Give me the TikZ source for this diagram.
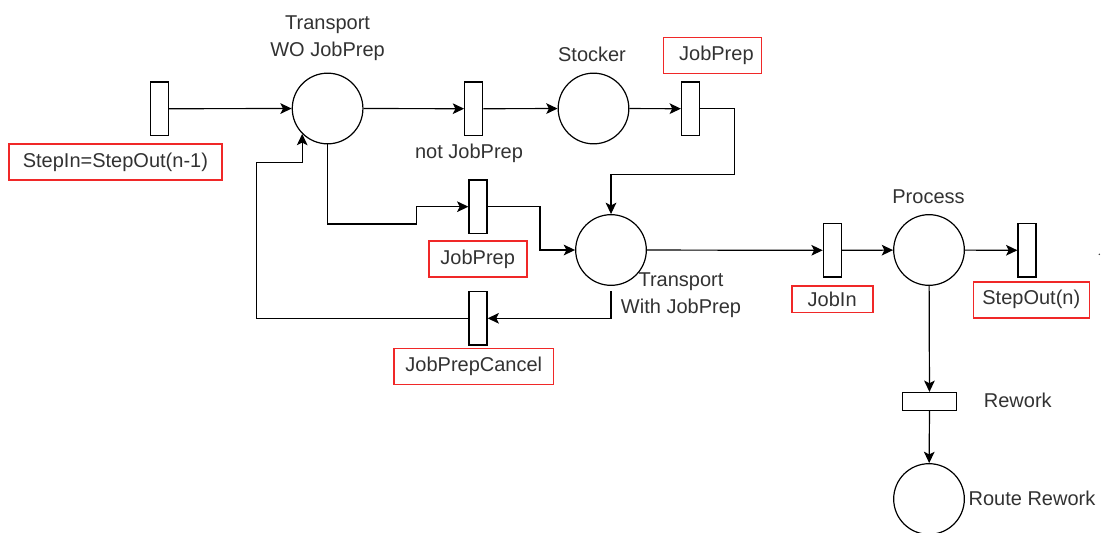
\documentclass[tikz,border=0pt]{standalone}
\usepackage{fontspec}
\setmainfont{Liberation Sans}
\usepackage{tikz}
\usetikzlibrary{calc, arrows.meta}
\definecolor{boxred}{RGB}{240, 40, 40}
\definecolor{txt}{RGB}{50, 50, 50}

\begin{document}
\begin{tikzpicture}[x=0.75pt, y=-0.75pt, line width=0.9pt,
    font=\fontsize{15}{20}\selectfont,
    place/.style={circle, draw, minimum size=53pt, inner sep=0pt},
    trans/.style={rectangle, draw, minimum width=13.5pt, minimum height=40pt, inner sep=0pt},
    redbox/.style={draw=boxred, line width=1.2pt, text=txt, minimum height=27pt, inner sep=2pt},
    lbl/.style={text=txt, align=center, inner sep=0pt},
    arr/.style={-{Stealth[length=8.5pt, width=8pt, inset=2pt]}}]
        \useasboundingbox (0,0) rectangle (1102,532);
        % places
        \node[place] (pwo) at (327.6,108.5) {};
        \node[place] (pst) at (593.5,108.5) {};
        \node[place] (pwith) at (611,250) {};
        \node[place] (pproc) at (929,250) {};
        \node[place] (prr) at (929,499) {};
        % transitions
        \node[trans] (tin) at (159.4,108.7) {};
        \node[trans] (tnot) at (473.7,108.7) {};
        \node[trans] (tjp) at (690.5,108.7) {};
        \node[trans] (tjp2) at (478,206.7) {};
        \node[trans] (tjin) at (832.3,250.3) {};
        \node[trans] (tout) at (1027,250.3) {};
        \node[trans] (tcancel) at (478,318.3) {};
        \node[rectangle, draw, minimum width=40.5pt, minimum height=13.5pt, inner sep=0pt] (trw) at (929.5,401.5) {};
        % texts
        \node[lbl] (lwo) at (327.6,38.5) {Transport\\WO JobPrep};
        \node[lbl] (lst) at (592,54) {Stocker};
        \node[lbl] (lnot) at (469,153.3) {not JobPrep};
        \node[lbl] (lproc) at (928.5,196.7) {Process};
        \node[lbl] (lwith) at (681,295) {Transport\\With JobPrep};
        \node[lbl] (lrw) at (1017.8,400) {Rework};
        \node[lbl, anchor=west] (lrr) at (968,498.3) {Route Rework};
        % red boxes
        \node[redbox, minimum width=159.75pt] (bin) at (115.4,162) {StepIn=StepOut(n-1)};
        \node[redbox, minimum width=73.5pt] (bjp) at (712.4,55.3) {\hspace{6pt}JobPrep};
        \node[redbox, minimum width=73.5pt] (bjp2) at (477.7,259) {JobPrep};
        \node[redbox, minimum width=60.75pt, minimum height=20pt] (bjin) at (832.2,299.3) {JobIn};
        \node[redbox, minimum width=87pt] (bout) at (1031.3,299.7) {StepOut(n)};
        \node[redbox, minimum width=119.7pt] (bcancel) at (473.8,366.3) {JobPrepCancel};
        \fill[txt] (1099.3,254.3) circle (0.6pt);
        % arcs
        \coordinate (b1) at (734.8,174.3);
        \coordinate (b2) at (416.3,224);
        \coordinate (b3) at (540,230);
        \coordinate (b4) at (256.5,162.3);
        \draw[arr] (tin) -- (pwo);
        \draw[arr] (pwo) -- (tnot);
        \draw[arr] (tnot) -- (pst);
        \draw[arr] (pst) -- (tjp);
        \draw[arr] (tjp.east) -| (b1) -| (pwith.north);
        \draw[arr] (pwo.south) |- (b2) |- (tjp2.west);
        \draw[arr] (tjp2.east) -| (b3) |- (pwith.west);
        \draw[arr] (pwith) -- (tjin);
        \draw[arr] (tjin) -- (pproc);
        \draw[arr] (pproc) -- (tout);
        \draw[arr, shorten <=4pt] (pwith.south) |- (tcancel.east);
        \draw[arr] (tcancel.west) -| (b4) -| (pwo.south west);
        \draw[arr] (pproc) -- (trw);
        \draw[arr] (trw) -- (prr);
      \end{tikzpicture}
\end{document}
